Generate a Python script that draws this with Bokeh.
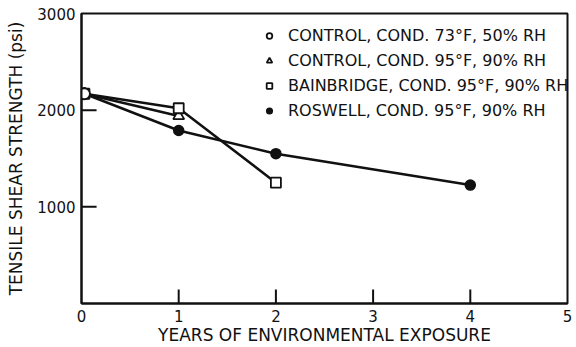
from bokeh.plotting import figure
from bokeh.models import FixedTicker, Range1d, Legend, LegendItem
from bokeh.embed import file_html
from bokeh.resources import INLINE

# Data (years, psi)
control73_x = [0.03]
control73_y = [2170]
control95_x = [0.03, 1.0]
control95_y = [2170, 1940]
bainbridge_x = [0.03, 1.0, 2.0]
bainbridge_y = [2170, 2020, 1250]
roswell_x = [0.03, 1.0, 2.0, 4.0]
roswell_y = [2170, 1790, 1550, 1225]

x_ticks = [0, 1, 2, 3, 4, 5]
y_ticks = [1000, 2000, 3000]
x_inner_ticks = [1, 2, 3, 4]
y_inner_ticks = [1000, 2000]

FONT = "DejaVu Sans"
INK = "#111111"
TICK_LEN_Y = 145    # psi, length of inward x-axis ticks
TICK_LEN_X = 0.155  # years, length of inward y-axis ticks

p = figure(width=576, height=347, output_backend="svg", toolbar_location=None,
           x_range=Range1d(0, 5), y_range=Range1d(0, 3000),
           min_border_left=81, min_border_right=9, min_border_top=13, min_border_bottom=41)
p.grid.visible = False
p.outline_line_color = INK
p.outline_line_width = 2
p.background_fill_color = "white"
p.border_fill_color = "white"

for ax in (p.xaxis[0], p.yaxis[0]):
    ax.axis_line_color = INK
    ax.axis_line_width = 2
    ax.major_tick_in = 0
    ax.major_tick_out = 0
    ax.minor_tick_line_color = None
    ax.major_label_text_font = FONT
    ax.major_label_text_font_size = "15px"
    ax.major_label_text_color = INK
    ax.axis_label_text_font = FONT
    ax.axis_label_text_font_style = "normal"
    ax.axis_label_text_color = INK

p.xaxis.ticker = FixedTicker(ticks=x_ticks)
p.yaxis.ticker = FixedTicker(ticks=y_ticks)
p.xaxis.major_label_standoff = 6
p.yaxis.major_label_standoff = 6
p.xaxis.axis_label = "YEARS OF ENVIRONMENTAL EXPOSURE"
p.yaxis.axis_label = "TENSILE SHEAR STRENGTH (psi)"
p.xaxis.axis_label_text_font_size = "17px"
p.yaxis.axis_label_text_font_size = "17px"
p.xaxis.axis_label_standoff = 0
p.yaxis.axis_label_standoff = 8

# inward tick marks
tick_x_y0 = [0 for _ in x_inner_ticks]
tick_x_y1 = [TICK_LEN_Y for _ in x_inner_ticks]
tick_y_x0 = [0 for _ in y_inner_ticks]
tick_y_x1 = [TICK_LEN_X for _ in y_inner_ticks]
p.segment(x0=x_inner_ticks, y0=tick_x_y0, x1=x_inner_ticks, y1=tick_x_y1,
          line_color=INK, line_width=2)
p.segment(x0=tick_y_x0, y0=y_inner_ticks, x1=tick_y_x1, y1=y_inner_ticks,
          line_color=INK, line_width=2)

# lines
p.line(control95_x, control95_y, line_color=INK, line_width=2.5)
p.line(bainbridge_x, bainbridge_y, line_color=INK, line_width=2.5)
p.line(roswell_x, roswell_y, line_color=INK, line_width=2.5)

# markers
r_ros = p.scatter(roswell_x, roswell_y, marker="circle", size=10, fill_color=INK, line_color=INK, line_width=1.5)
r_c95 = p.scatter(control95_x, control95_y, marker="triangle", size=11, fill_color="white", line_color=INK, line_width=1.8)
r_bain = p.scatter(bainbridge_x, bainbridge_y, marker="square", size=10, fill_color="white", line_color=INK, line_width=1.8)
r_c73 = p.scatter(control73_x, control73_y, marker="circle", size=11, fill_color="white", line_color=INK, line_width=1.8)

legend = Legend(items=[
    LegendItem(label="CONTROL, COND. 73°F, 50% RH", renderers=[r_c73]),
    LegendItem(label="CONTROL, COND. 95°F, 90% RH", renderers=[r_c95]),
    LegendItem(label="BAINBRIDGE, COND. 95°F, 90% RH", renderers=[r_bain]),
    LegendItem(label="ROSWELL, COND. 95°F, 90% RH", renderers=[r_ros]),
], location=(181, 183))
legend.background_fill_alpha = 0
legend.border_line_color = None
legend.label_text_font = FONT
legend.label_text_font_size = "16px"
legend.label_text_color = INK
legend.glyph_width = 14
legend.glyph_height = 19
legend.spacing = 6
legend.label_standoff = 12
legend.padding = 2
legend.margin = 0
p.add_layout(legend)

open("out.html", "w").write(file_html(p, INLINE))
